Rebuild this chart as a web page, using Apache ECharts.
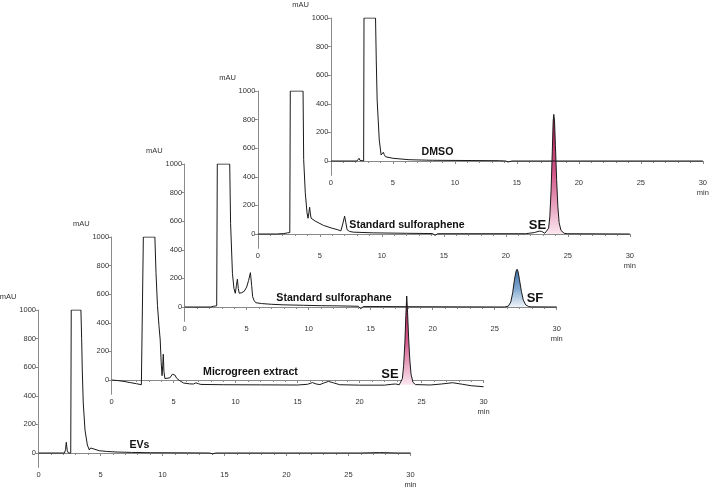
<!DOCTYPE html>
<html><head><meta charset="utf-8">
<script src="https://cdn.jsdelivr.net/npm/echarts@6/dist/echarts.min.js"></script>
<style>html,body{margin:0;padding:0;background:#fff}#c{width:710px;height:489px}</style>
</head><body><div id="c"></div>
<script>
// ---------- data ----------
const sampleNames = ['EVs', 'Microgreen extract', 'Standard sulforaphane', 'Standard sulforaphene', 'DMSO'];
const yTickValues = [0, 200, 400, 600, 800, 1000];
const xTickLabels = [0, 5, 10, 15, 20, 25, 30];

const evsTrace = [[0,0],[2.1,0],[2.18,25],[2.24,75],[2.32,15],[2.42,0],[2.6,0],[2.64,1000],[3.42,1000],[3.48,800],[3.53,580],[3.61,350],[3.75,160],[3.94,56],[4.1,21],[4.2,35],[4.29,47],[4.4,30],[4.56,21],[4.9,16],[5.5,11],[6.25,7],[7.5,4],[9,2],[12,1],[13.8,0],[14.05,-6],[14.3,0],[20,0],[26,0],[27.5,3],[29,0],[30,0]];

const microPre = [[0,0],[0.5,-4],[1,-10],[1.5,-18],[2,-26],[2.4,-33],[2.52,-30],[2.56,1000],[3.49,1000],[3.58,750],[3.7,520],[3.82,380],[3.92,280],[4.0,120],[4.07,30],[4.12,100],[4.17,180],[4.22,60],[4.3,10],[4.45,5],[4.7,15],[4.9,40],[5.0,47],[5.1,35],[5.25,12],[5.5,-5],[5.8,-21],[6.3,-27],[6.6,-28],[6.8,-20],[6.9,-17],[7.0,-26],[7.2,-31],[9,-33],[12,-34],[15,-35],[15.8,-30],[16.2,-18],[16.5,-28],[16.8,-32],[17.2,-18],[17.5,-10],[17.9,-20],[18.4,-33],[20,-36],[22,-36],[22.6,-30],[22.9,-28],[23.2,-33]];
const microSE = [[23.3,-30],[23.45,10],[23.55,100],[23.65,260],[23.73,450],[23.8,587],[23.87,470],[23.95,300],[24.05,140],[24.15,40],[24.3,-15],[24.5,-32]];
const microPost = [[25.7,-35],[26.6,-28],[27.5,-19],[28.3,-30],[29,-40],[30,-47]];

const sulfanePre = [[0,0],[2.1,0],[2.3,5],[2.58,8],[2.63,1000],[3.63,1000],[3.7,585],[3.85,235],[3.97,130],[4.08,96],[4.17,150],[4.25,195],[4.32,130],[4.4,96],[4.6,100],[4.8,110],[5.0,140],[5.15,185],[5.3,240],[5.4,150],[5.48,72],[5.6,45],[5.73,30],[6.2,24],[7,19],[8,15],[9.6,12],[11,9],[12.3,8],[14.0,5],[14.2,-12],[14.4,3],[16,3],[18,2],[22,1],[25.8,0]];
const sulfaneSF = [[25.9,0],[26.1,6],[26.3,35],[26.45,100],[26.6,195],[26.72,250],[26.8,264],[26.88,250],[27.0,190],[27.15,110],[27.3,50],[27.5,15],[27.75,3]];
const sulfanePost = [[28,1],[30,0]];

const sulfenePre = [[0,0],[1.5,0],[2.1,3],[2.4,8],[2.58,10],[2.62,1000],[3.65,1000],[3.7,520],[3.83,288],[3.97,148],[4.05,110],[4.12,150],[4.18,187],[4.24,140],[4.3,110],[4.64,90],[5.3,60],[6.0,40],[6.4,31],[6.7,22],[6.85,70],[7.0,125],[7.1,80],[7.2,30],[7.4,18],[7.7,13],[9.3,8],[12,5],[14.1,3],[14.3,-10],[14.5,2],[18,2],[21.6,2],[22.3,10],[22.7,20],[22.9,18],[23.15,5]];
const sulfeneSE = [[23.3,5],[23.45,40],[23.55,120],[23.65,300],[23.75,580],[23.82,790],[23.87,836],[23.93,790],[24.0,620],[24.1,380],[24.2,190],[24.3,80],[24.45,25],[24.7,5]];
const sulfenePost = [[25,2],[30,0]];

const dmsoTrace = [[0,0],[2.1,0],[2.2,8],[2.27,19],[2.34,5],[2.45,0],[2.64,0],[2.67,1000],[3.6,1000],[3.66,700],[3.73,426],[3.9,147],[4.05,42],[4.15,55],[4.23,61],[4.3,45],[4.4,30],[5.0,19],[6.3,9],[8.2,5],[13.6,2],[14.1,0],[14.3,-7],[14.6,0],[30,0]];

const traces = [
  evsTrace,
  microPre.concat(microSE, microPost),
  sulfanePre.concat(sulfaneSF, sulfanePost),
  sulfenePre.concat(sulfeneSE, sulfenePost),
  dmsoTrace
];
const peaks = [
  {panel: 1, data: microSE, base: -33, label: 'SE', color: 'pink'},
  {panel: 2, data: sulfaneSF, base: 0, label: 'SF', color: 'blue'},
  {panel: 3, data: sulfeneSE, base: 0, label: 'SE', color: 'pink'}
];

// ---------- layout ----------
const FONT = '"Liberation Sans", Arial, Helvetica, sans-serif';
const W = 372, PX_PER_1000 = 143, BELOW = 14.3;
function panelLeft(i) { return 38.5 + 73.1 * i; }
function panelZero(i) { return 453 - 73 * i; }

const grids = [], xAxes = [], yAxes = [], series = [], graphics = [];
for (let i = 0; i < 5; i++) {
  const left = panelLeft(i), y0 = panelZero(i), top = y0 - PX_PER_1000;
  grids.push({left: left, top: top, width: W, height: PX_PER_1000 + BELOW});
  xAxes.push({
    type: 'value', gridIndex: i, min: 0, max: 30, interval: 5,
    axisLine: {show: true, lineStyle: {color: '#8a8a8a', width: 1}},
    axisTick: {show: true, length: 3, lineStyle: {color: '#8a8a8a'}},
    minorTick: {show: true, splitNumber: 5, length: 2, lineStyle: {color: '#8a8a8a'}},
    splitLine: {show: false},
    axisLabel: {fontSize: 7.5, color: '#333', margin: 4, fontFamily: FONT,
      customValues: xTickLabels, formatter: v => String(v)}
  });
  yAxes.push({
    type: 'value', gridIndex: i, min: -100, max: 1000,
    axisLine: {show: true, lineStyle: {color: '#8a8a8a', width: 1}},
    axisTick: {show: true, length: 3, customValues: yTickValues, lineStyle: {color: '#8a8a8a'}},
    splitLine: {show: false},
    axisLabel: {fontSize: 7.5, color: '#333', margin: 2.5, fontFamily: FONT,
      customValues: yTickValues, formatter: v => String(v)}
  });
  graphics.push({type: 'text', x: left - 22, y: top - 12.7, silent: true,
    style: {text: 'mAU', align: 'right', verticalAlign: 'middle', font: '7.5px ' + FONT, fill: '#333'}});
  graphics.push({type: 'text', x: left + W, y: y0 + BELOW + 18, silent: true,
    style: {text: 'min', align: 'center', verticalAlign: 'middle', font: '7.5px ' + FONT, fill: '#333'}});
}

const gradients = {
  pink: new echarts.graphic.LinearGradient(0, 0, 0, 1, [{offset: 0, color: '#a8124c'}, {offset: 0.5, color: '#d45a8c'}, {offset: 1, color: '#fbe6ef'}]),
  blue: new echarts.graphic.LinearGradient(0, 0, 0, 1, [{offset: 0, color: '#3c6ea6'}, {offset: 0.5, color: '#7ea6cf'}, {offset: 1, color: '#eef4fa'}])
};

// draw from back (DMSO) to front (EVs)
for (let i = 4; i >= 0; i--) {
  peaks.filter(p => p.panel === i).forEach(p => {
    series.push({type: 'line', xAxisIndex: i, yAxisIndex: i, data: p.data, showSymbol: false, silent: true,
      lineStyle: {width: 0, opacity: 0}, areaStyle: {color: gradients[p.color], opacity: 1, origin: p.base}});
  });
  series.push({type: 'line', name: sampleNames[i], xAxisIndex: i, yAxisIndex: i, data: traces[i],
    showSymbol: false, silent: true, lineStyle: {color: '#1a1a1a', width: 1}});
}

// sample labels and peak labels
const nameLabelPos = [[139.5, 445], [250.5, 372], [334, 298], [407, 225], [437.5, 152]];
nameLabelPos.forEach((p, i) => graphics.push({type: 'text', x: p[0], y: p[1], silent: true,
  style: {text: sampleNames[i], align: 'center', verticalAlign: 'middle', font: 'bold 10.6px ' + FONT, fill: '#111'}}));
const peakLabelPos = [[390, 374], [535, 298.5], [537.5, 225]];
peaks.forEach((p, k) => graphics.push({type: 'text', x: peakLabelPos[k][0], y: peakLabelPos[k][1], silent: true,
  style: {text: p.label, align: 'center', verticalAlign: 'middle', font: 'bold 13px ' + FONT, fill: '#111'}}));

const chart = echarts.init(document.getElementById('c'), null, {renderer: 'canvas'});
chart.setOption({
  animation: false,
  backgroundColor: '#fff',
  grid: grids, xAxis: xAxes, yAxis: yAxes, series: series,
  graphic: graphics
});
</script></body></html>
